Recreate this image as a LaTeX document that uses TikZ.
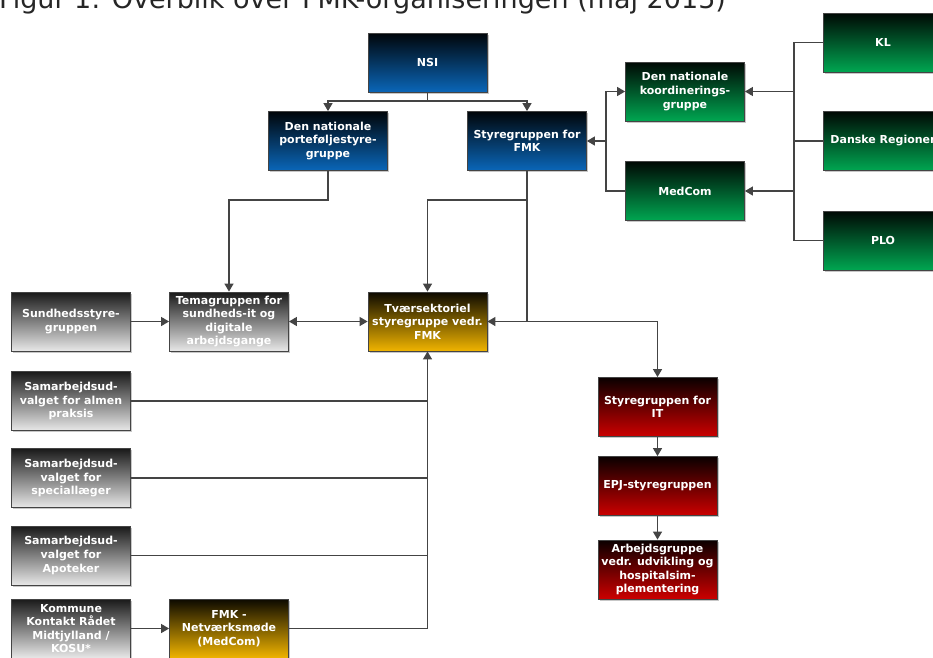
\documentclass[tikz,border=0pt]{standalone}
\usepackage{fontspec}
\setmainfont{DejaVu Sans}
\usetikzlibrary{arrows.meta,shadows}

\definecolor{lnk}{HTML}{444444}
\definecolor{nsiblue}{HTML}{0A66B8}
\definecolor{kogreen}{HTML}{00A651}
\definecolor{grlight}{HTML}{E8E8E8}
\definecolor{fmkgold}{HTML}{F0B400}
\definecolor{itred}{HTML}{CC0000}

\begin{document}
\begin{tikzpicture}[x=1pt,y=-1pt,
  box/.style={draw=lnk, line width=0.8pt, minimum width=119pt, minimum height=59pt,
    inner sep=1pt, align=center, text=white,
    font=\bfseries\fontsize{11}{13.6}\selectfont,
    drop shadow={shadow xshift=1.5pt,shadow yshift=-1.5pt,fill=black!22,opacity=1}},
  blu/.style={box, top color=black!95!nsiblue, bottom color=nsiblue},
  grn/.style={box, top color=black!95!kogreen, bottom color=kogreen},
  gry/.style={box, top color=black!90, bottom color=grlight},
  gld/.style={box, top color=black!95!fmkgold, bottom color=fmkgold},
  rd/.style={box, top color=black!95!itred, bottom color=itred},
  link/.style={draw=lnk, line width=1.3pt},
  arr/.style={link, -{Triangle[length=8pt,width=9pt]}},
  ]
  \useasboundingbox (0,0) rectangle (933,657);
  % Title (top cut off as in the figure)
  \node[anchor=base west, inner sep=0, text=black!85,
    font=\fontsize{27}{32}\selectfont] (title) at (-1,8)
    {Figur 1: Overblik over FMK-organiseringen (maj 2015)};
  % Top level
  \node[blu] (nsi) at (427.5,62.5) {NSI};
  \node[blu] (port) at (328,141) {Den nationale\\porteføljestyre-\\gruppe};
  \node[blu] (styfmk) at (527,141) {Styregruppen for\\FMK};
  % Green organisations
  \node[grn] (koord) at (685,91.5) {Den nationale\\koordinerings-\\gruppe};
  \node[grn] (medcom) at (685,191) {MedCom};
  \node[grn] (kl) at (883,42.5) {KL};
  \node[grn] (dr) at (883,141) {Danske Regioner};
  \node[grn] (plo) at (883,240.5) {PLO};
  % Middle row
  \node[gry] (sund) at (71,321.5) {Sundhedsstyre-\\gruppen};
  \node[gry] (tema) at (229,321.5) {Temagruppen for\\sundheds-it og\\digitale\\arbejdsgange};
  \node[gld] (tvaer) at (427.5,321.5) {Tværsektoriel\\styregruppe vedr.\\FMK};
  % Left column
  \node[gry] (almen) at (71,401) {Samarbejdsud-\\valget for almen\\praksis};
  \node[gry] (spec) at (71,478) {Samarbejdsud-\\valget for\\speciallæger};
  \node[gry] (apo) at (71,555.5) {Samarbejdsud-\\valget for\\Apoteker};
  \node[gry] (kosu) at (71,628.5) {Kommune\\Kontakt Rådet\\Midtjylland /\\KOSU*};
  \node[gld] (netv) at (229,628.5) {FMK -\\Netværksmøde\\(MedCom)};
  % Red IT column
  \node[rd] (styit) at (657.5,407) {Styregruppen for\\IT};
  \node[rd] (epj) at (657.5,486) {EPJ-styregruppen};
  \node[rd] (arbg) at (657.5,569.5) {Arbejdsgruppe\\vedr. udvikling og\\hospitalsim-\\plementering};

  % Connectors from NSI
  \coordinate (nsiJ) at (427.5,101);
  \draw[link] (nsi.south) -- (nsiJ);
  \draw[arr] (nsiJ) -| (port.north);
  \draw[arr] (nsiJ) -| (styfmk.north);
  % Portfolio group to theme group
  \coordinate (portJ) at (328,200);
  \draw[arr] (port.south) -- (portJ) -| (tema.north);
  % FMK steering group downwards
  \coordinate (fmkA) at (527,200);
  \coordinate (fmkB) at (527,321.5);
  \draw[link] (styfmk.south) -- (fmkB);
  \draw[arr] (fmkA) -| (tvaer.north);
  \draw[arr] (fmkB) -- (tvaer.east);
  \draw[arr] (fmkB) -| (styit.north);
  % Organisations on the right
  \coordinate (busK) at (794,91.5);
  \coordinate (busM) at (794,191);
  \draw[link] (kl.west) -- ++(-29,0) |- (plo.west);
  \draw[link] (dr.west) -- ++(-29,0);
  \draw[arr] (busK) -- (koord.east);
  \draw[arr] (busM) -- (medcom.east);
  \coordinate (grnJ) at (606,141);
  \draw[arr] (medcom.west) -| (grnJ) |- (koord.west);
  \draw[arr] (grnJ) -- (styfmk.east);
  % Middle row
  \draw[arr] (sund.east) -- (tema.west);
  \draw[link, {Triangle[length=8pt,width=9pt]}-{Triangle[length=8pt,width=9pt]}] (tema.east) -- (tvaer.west);
  % Left column into cross-sector group
  \draw[arr] (kosu.east) -- (netv.west);
  \draw[arr] (netv.east) -| (tvaer.south);
  \draw[link] (almen.east) -- (almen.east -| tvaer.south);
  \draw[link] (spec.east) -- (spec.east -| tvaer.south);
  \draw[link] (apo.east) -- (apo.east -| tvaer.south);
  % IT chain
  \draw[arr] (styit.south) -- (epj.north);
  \draw[arr] (epj.south) -- (arbg.north);
\end{tikzpicture}
\end{document}
